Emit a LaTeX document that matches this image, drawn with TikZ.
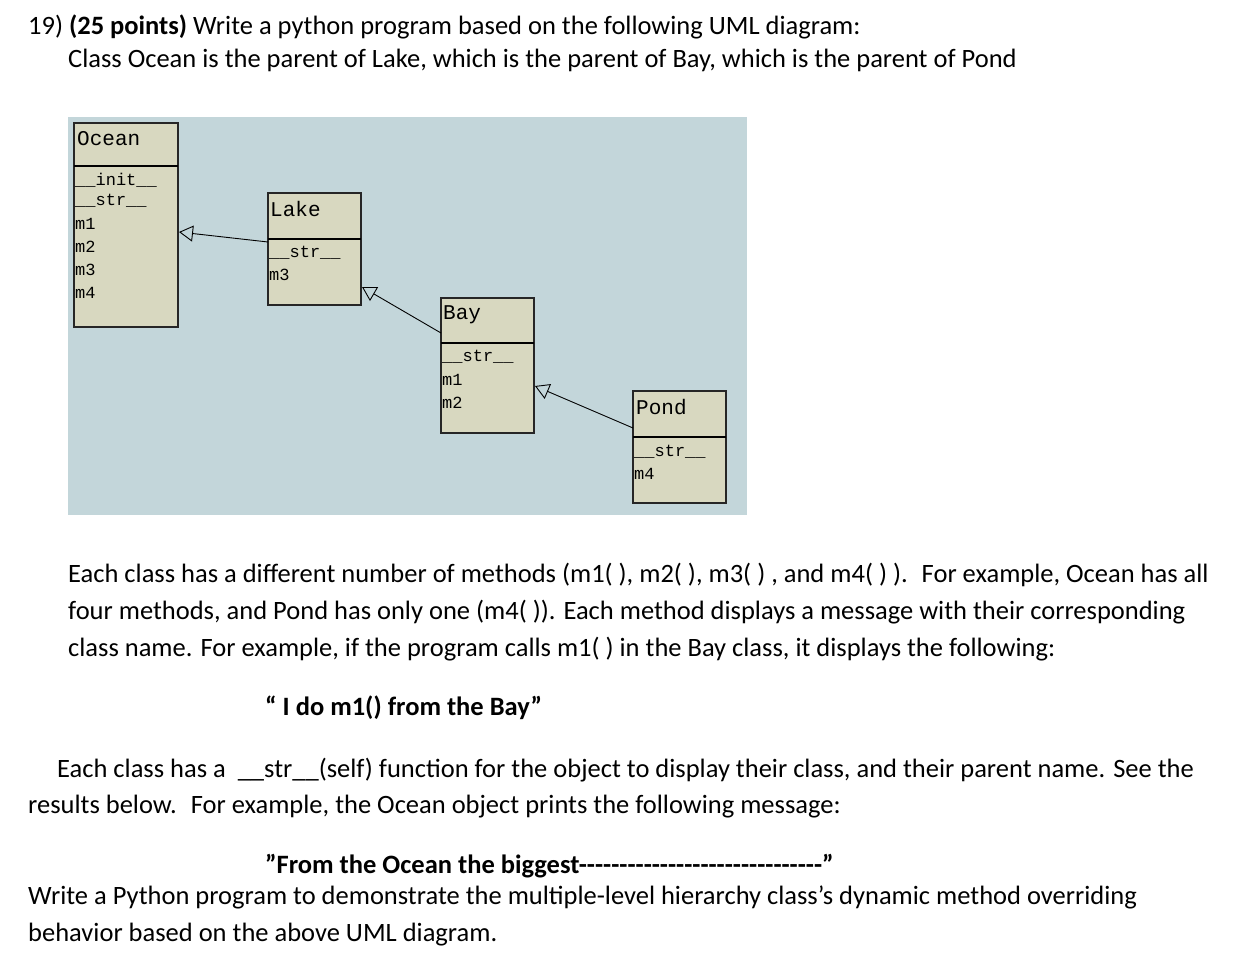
\documentclass[tikz,border=0pt]{standalone}
\usepackage{fontspec}
\setmainfont{Carlito}
\newfontfamily\umlfont{Liberation Mono}
\usetikzlibrary{arrows.meta}
\definecolor{bgc}{HTML}{C3D6DA}
\definecolor{boxc}{HTML}{D8D8C0}
\tikzset{
 txt/.style={anchor=west,inner sep=0pt,font=\fontsize{26.5}{30}\selectfont},
 btxt/.style={txt,font=\fontsize{26.5}{30}\selectfont\bfseries},
 cls/.style={draw=black!85,line width=1.2pt,fill=boxc},
 it/.style={anchor=west,inner sep=0pt,font=\umlfont\fontsize{17}{19}\selectfont},
 hd/.style={anchor=west,inner sep=0pt,font=\umlfont\fontsize{21}{23}\selectfont},
 inh/.style={-{Triangle[open,length=14pt,width=16pt]},line width=0.9pt}
}
\begin{document}
\begin{tikzpicture}[x=1pt,y=-1pt]
\useasboundingbox (0,0) rectangle (1233,976);
\node[txt] (t1) at (28,27) {19) \textbf{(25 points)} Write a python program based on the following UML diagram:};
\node[txt] (t2) at (68,60) {Class Ocean is the parent of Lake, which is the parent of Bay, which is the parent of Pond};
\fill[bgc] (68,117) rectangle (747,515);
% Ocean
\draw[cls] (74,123) rectangle (178,327); \draw[line width=1.2pt] (74,166)--(178,166);
\node[hd] (oh) at (77,139) {Ocean};
\node[it] (o1) at (75,180) {\_\_init\_\_};
\node[it] (o2) at (75,201) {\_\_str\_\_};
\node[it] (o3) at (75,224) {m1};
\node[it] (o4) at (75,247) {m2};
\node[it] (o5) at (75,270) {m3};
\node[it] (o6) at (75,293) {m4};
% Lake
\draw[cls] (268,193) rectangle (361,305); \draw[line width=1.2pt] (268,239)--(361,239);
\node[hd] (lh) at (270,209) {Lake};
\node[it] (l1) at (269,253) {\_\_str\_\_};
\node[it] (l2) at (269,275) {m3};
% Bay
\draw[cls] (441,298) rectangle (534,433); \draw[line width=1.2pt] (441,343)--(534,343);
\node[hd] (bh) at (443,315) {Bay};
\node[it] (b1) at (442,357) {\_\_str\_\_};
\node[it] (b2) at (442,380) {m1};
\node[it] (b3) at (442,403) {m2};
% Pond
\draw[cls] (633,391) rectangle (726,503); \draw[line width=1.2pt] (633,437)--(726,437);
\node[hd] (ph) at (636,407) {Pond};
\node[it] (p1) at (634,452) {\_\_str\_\_};
\node[it] (p2) at (634,474) {m4};
% arrows
\coordinate (la) at (268,242); \coordinate (oa) at (179,232);
\coordinate (ba) at (441,333); \coordinate (lb) at (362,287);
\coordinate (pa) at (633,428); \coordinate (bb) at (535,386);
\draw[inh] (la)--(oa);
\draw[inh] (ba)--(lb);
\draw[inh] (pa)--(bb);
% text
\node[txt] (a1) at (68,575) {Each class has a different number of methods (m1( ), m2( ), m3( ) , and m4( ) ).~ For example, Ocean has all};
\node[txt] (a2) at (68,612) {four methods, and Pond has only one (m4( )). Each method displays a message with their corresponding};
\node[txt] (a3) at (68,649) {class name. For example, if the program calls m1( ) in the Bay class, it displays the following:};
\node[btxt] (q1) at (265,708) {“ I do m1() from the Bay”};
\node[txt] (c1) at (57,770) {Each class has a ~\_\_str\_\_(self) function for the object to display their class, and their parent name. See the};
\node[txt] (c2) at (28,807) {results below.~ For example, the Ocean object prints the following message:};
\node[btxt] (q2) at (265,866) {\char"22 From the Ocean the biggest{-}{-}{-}{-}{-}{-}{-}{-}{-}{-}{-}{-}{-}{-}{-}{-}{-}{-}{-}{-}{-}{-}{-}{-}{-}{-}{-}{-}{-}{-}\char"22};
\node[txt] (d1) at (28,897) {Write a Python program to demonstrate the multiple-level hierarchy class\char"27 s dynamic method overriding};
\node[txt] (d2) at (28,935) {behavior based on the above UML diagram.};
\end{tikzpicture}
\end{document}
